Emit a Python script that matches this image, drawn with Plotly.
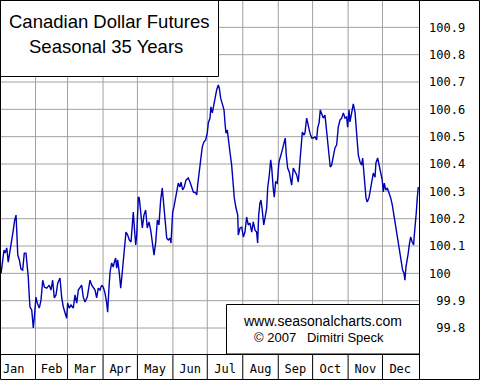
import plotly.graph_objects as go

# ---------------- data ----------------
months = ["Jan", "Feb", "Mar", "Apr", "May", "Jun", "Jul", "Aug", "Sep", "Oct", "Nov", "Dec"]
month_days = [31, 28, 31, 30, 31, 30, 31, 31, 30, 31, 30, 31]

days_jan_mar = [0.9, 2.4, 3.5, 4.4, 5.9, 7.2, 8.7, 10.2, 11.6, 12.8, 14.0, 14.6, 15.5, 16.9, 18.3, 19.8, 21.2, 22.7, 23.8, 24.7,
                25.6, 26.2, 27.7, 29.1, 30.0, 31.4, 32.6, 34.3, 35.8, 37.3, 38.7, 40.8, 43.0, 44.5, 46.0, 47.4, 48.9, 50.4, 52.4, 53.9,
                55.3, 56.8, 58.2, 59.1, 60.5, 62.0, 64.0, 65.5, 67.0, 68.4, 69.9, 71.3, 72.7, 74.2, 76.2, 78.0]
vals_jan_mar = [100.000, 100.056, 100.085, 100.074, 100.093, 100.041, 100.078, 100.111, 100.158, 100.195,
                100.213, 100.158, 100.067, 100.049, 100.016, 100.012, 100.074, 100.074, 100.030, 99.986,
                99.913, 99.877, 99.866, 99.800, 99.840, 99.913, 99.891, 99.873, 99.902, 99.975,
                99.950, 99.946, 99.957, 99.939, 99.975, 99.910, 99.921, 99.964, 99.983, 99.910,
                99.877, 99.855, 99.836, 99.891, 99.873, 99.884, 99.873, 99.921, 99.891, 99.939,
                99.950, 99.957, 99.913, 99.895, 99.913, 99.968]

days_mar_may = [78.6, 80.1, 81.5, 83.0, 84.4, 85.8, 87.3, 88.8, 90.2, 91.7, 93.2, 94.0, 95.2, 96.1, 97.5, 98.9, 99.8, 101.0, 101.9, 102.8,
                104.2, 105.4, 106.8, 108.5, 110.0, 111.5, 112.9, 114.4, 115.5, 116.4, 117.3, 118.5, 119.4, 120.8, 121.6, 122.9, 124.3, 125.7, 127.2, 128.6,
                130.1, 131.6, 133.0, 134.5, 136.0, 137.4, 138.8, 140.3, 141.7, 142.6, 144.1, 145.6, 147.0, 148.4, 149.3]
vals_mar_may = [99.975, 99.957, 99.950, 99.939, 99.910, 99.946, 99.939, 99.957, 99.950, 99.928,
                99.891, 99.858, 99.950, 100.005, 100.038, 100.023, 100.041, 100.056, 100.019, 100.049,
                100.001, 99.946, 100.005, 100.085, 100.151, 100.140, 100.122, 100.115, 100.184, 100.224,
                100.169, 100.104, 100.140, 100.279, 100.276, 100.232, 100.166, 100.213, 100.232, 100.166,
                100.188, 100.158, 100.122, 100.067, 100.115, 100.195, 100.177, 100.268, 100.312, 100.268,
                100.184, 100.129, 100.122, 100.129, 100.111]

days_jun_aug = [150.8, 151.9, 153.4, 154.3, 155.7, 157.2, 158.1, 159.5, 160.9, 162.4, 164.4, 165.9, 167.4, 168.8, 171.1, 171.8, 172.6, 173.5, 174.6, 175.5,
                176.6, 178.1, 179.6, 181.0, 181.9, 183.4, 184.2, 185.4, 186.9, 187.7, 189.2, 190.6, 191.5, 192.7, 194.1, 195.6, 196.5, 197.3, 198.5, 199.4,
                200.8, 202.3, 203.2, 204.6, 206.1, 207.6, 208.1, 209.6, 211.1, 212.5, 213.9, 215.4, 216.8, 218.3, 219.8, 221.2, 222.7, 224.1, 225.0, 225.9]
vals_jun_aug = [100.224, 100.243, 100.276, 100.298, 100.330, 100.316, 100.334, 100.305, 100.316, 100.341,
                100.349, 100.334, 100.312, 100.298, 100.294, 100.287, 100.323, 100.360, 100.385, 100.422,
                100.462, 100.481, 100.488, 100.513, 100.550, 100.568, 100.609, 100.587, 100.623, 100.645,
                100.671, 100.689, 100.678, 100.641, 100.616, 100.598, 100.550, 100.513, 100.524, 100.481,
                100.444, 100.396, 100.334, 100.276, 100.239, 100.213, 100.140, 100.166, 100.169, 100.133,
                100.151, 100.206, 100.177, 100.184, 100.151, 100.188, 100.158, 100.151, 100.111, 100.213]

days_aug_oct = [227.0, 227.9, 229.0, 230.3, 231.4, 232.9, 233.8, 234.9, 236.4, 237.3, 238.6, 239.5, 240.7, 242.1, 243.6, 245.1, 246.5, 248.0, 249.1, 250.0,
                251.2, 252.6, 253.8, 254.7, 256.1, 257.6, 259.1, 260.5, 261.4, 262.8, 264.0, 265.5, 266.3, 267.8, 269.2, 270.7, 272.2, 273.6, 275.1, 276.5,
                277.4, 278.6, 279.7, 280.9, 282.3, 283.8, 285.3, 286.1, 287.3, 288.4, 289.6, 291.0]
vals_aug_oct = [100.257, 100.268, 100.232, 100.177, 100.202, 100.239, 100.316, 100.349, 100.415, 100.385,
                100.312, 100.279, 100.334, 100.330, 100.407, 100.426, 100.451, 100.477, 100.495, 100.433,
                100.385, 100.371, 100.349, 100.323, 100.385, 100.371, 100.360, 100.334, 100.389, 100.459,
                100.517, 100.506, 100.513, 100.568, 100.535, 100.513, 100.495, 100.495, 100.499, 100.488,
                100.532, 100.550, 100.598, 100.587, 100.568, 100.579, 100.517, 100.470, 100.440, 100.389,
                100.396, 100.422]

days_oct_dec = [292.5, 294.0, 295.4, 296.9, 298.4, 299.8, 301.3, 302.7, 303.6, 304.8, 305.6, 307.1, 308.5, 310.0, 310.9, 312.0, 312.9, 314.4, 315.8, 316.7,
                317.8, 318.7, 319.6, 320.7, 322.2, 323.7, 324.6, 326.0, 327.5, 328.3, 329.8, 330.9, 332.4, 333.8, 334.7, 335.6, 336.8, 338.2, 339.7, 341.2,
                342.6, 344.0, 345.5, 346.9, 347.8, 348.7, 349.9, 350.8, 351.6, 352.8, 353.6, 354.5, 355.7, 356.5, 357.4, 358.6, 360.0, 361.2, 361.8, 362.6,
                363.5, 364.4, 365.3]
vals_oct_dec = [100.459, 100.470, 100.535, 100.561, 100.568, 100.587, 100.568, 100.572, 100.535, 100.598,
                100.554, 100.587, 100.620, 100.590, 100.550, 100.488, 100.433, 100.407, 100.396, 100.422,
                100.371, 100.312, 100.276, 100.261, 100.276, 100.312, 100.341, 100.367, 100.352, 100.404,
                100.422, 100.396, 100.371, 100.341, 100.298, 100.330, 100.305, 100.312, 100.294, 100.276,
                100.250, 100.213, 100.177, 100.147, 100.122, 100.096, 100.060, 100.038, 100.012, 100.001,
                99.975, 100.023, 100.049, 100.074, 100.104, 100.133, 100.115, 100.104, 100.140, 100.169,
                100.221, 100.276, 100.316]

y_ticks = [99.8, 99.9, 100.0, 100.1, 100.2, 100.3, 100.4, 100.5, 100.6, 100.7, 100.8, 100.9]
y_tick_text = ["\u00a099.8", "\u00a099.9", "100", "100.1", "100.2", "100.3", "100.4", "100.5", "100.6", "100.7", "100.8", "100.9"]

title_lines = ["Canadian Dollar Futures", "Seasonal 35 Years"]
credit_lines = ["www.seasonalcharts.com", "\u00a9 2007\u00a0\u00a0\u00a0Dimitri Speck"]

# ---------------- assembly ----------------
days = days_jan_mar + days_mar_may + days_jun_aug + days_aug_oct + days_oct_dec
vals = vals_jan_mar + vals_mar_may + vals_jun_aug + vals_aug_oct + vals_oct_dec
assert len(days) == len(vals)

boundaries = [0]
for d in month_days:
    boundaries.append(boundaries[-1] + d)
mids = [(boundaries[i] + boundaries[i + 1]) / 2 for i in range(12)]
mids[0] -= 3.5  # Jan label sits a bit left in the original

W, H = 480, 380
PX_R = 419      # right edge of plot area (px)
PX_B = 354      # bottom edge of plot area (px from top)
fx = lambda px: px / W
fy = lambda py: 1 - py / H

grid = "#a0a0a0"
mono = "DejaVu Sans Mono"

fig = go.Figure()
# grey grid drawn as plain line traces beneath the data line
for v in y_ticks:
    fig.add_trace(go.Scatter(x=[0, 365.9], y=[v, v], mode="lines", line=dict(color=grid, width=1),
                             hoverinfo="skip"))
for b in boundaries[1:-1]:
    fig.add_trace(go.Scatter(x=[b, b], y=[99.705, 101.0], mode="lines", line=dict(color=grid, width=1),
                             hoverinfo="skip"))
fig.add_trace(go.Scatter(x=days, y=vals, mode="lines",
                         line=dict(color="#0000b4", width=1.4), hoverinfo="skip"))

fig.update_layout(
    width=W, height=H,
    margin=dict(l=0, r=0, t=0, b=0),
    paper_bgcolor="white", plot_bgcolor="rgba(0,0,0,0)",
    showlegend=False,
    xaxis=dict(domain=[0, fx(PX_R)], range=[0, 365.9],
               tickmode="array", tickvals=mids, ticktext=months,
               showgrid=False, zeroline=False, ticks="",
               showline=True, linecolor="black", linewidth=1,
               tickfont=dict(family=mono, size=12, color="black"),
               ticklabelstandoff=4),
    yaxis=dict(domain=[fy(PX_B), 1], range=[99.705, 101.0], side="right",
               tickmode="array", tickvals=y_ticks, ticktext=y_tick_text,
               showgrid=False, zeroline=False, ticks="",
               tickfont=dict(family=mono, size=12, color="black"),
               ticklabelstandoff=9),
)

shapes = []
# label-row separators (black)
for b in boundaries[1:-1]:
    shapes.append(dict(type="line", xref="x", yref="paper", x0=b, x1=b, y0=0, y1=fy(PX_B),
                       line=dict(color="black", width=1)))
# right column separator
shapes.append(dict(type="line", xref="paper", yref="paper", x0=fx(PX_R + 0.5), x1=fx(PX_R + 0.5), y0=0, y1=1,
                   line=dict(color="black", width=1)))
# title box
shapes.append(dict(type="rect", xref="paper", yref="paper", x0=fx(0.5), x1=fx(218.5), y0=fy(76.5), y1=fy(0.5),
                   fillcolor="white", line=dict(color="black", width=1), layer="above"))
# credit box
shapes.append(dict(type="rect", xref="paper", yref="paper", x0=fx(226.5), x1=fx(PX_R + 0.5), y0=fy(PX_B), y1=fy(304.5),
                   fillcolor="white", line=dict(color="black", width=1), layer="above"))
# outer border
shapes.append(dict(type="rect", xref="paper", yref="paper", x0=fx(0.5), x1=fx(W - 0.5), y0=fy(H - 0.5), y1=fy(0.5),
                   line=dict(color="black", width=1), layer="above"))
fig.update_layout(shapes=shapes)

sans = "Liberation Sans, Arial"
annotations = [
    dict(text=title_lines[0], x=fx(109.5), y=fy(21.5), xref="paper", yref="paper", showarrow=False,
         xanchor="center", yanchor="middle", font=dict(family=sans, size=18.5, color="black")),
    dict(text=title_lines[1], x=fx(106), y=fy(46.5), xref="paper", yref="paper", showarrow=False,
         xanchor="center", yanchor="middle", font=dict(family=sans, size=18.5, color="black")),
    dict(text=credit_lines[0], x=fx(322.5), y=fy(320.5), xref="paper", yref="paper", showarrow=False,
         xanchor="center", yanchor="middle", font=dict(family=sans, size=14, color="black")),
    dict(text=credit_lines[1], x=fx(318.5), y=fy(337), xref="paper", yref="paper", showarrow=False,
         xanchor="center", yanchor="middle", font=dict(family=sans, size=13, color="black")),
]
fig.update_layout(annotations=annotations)

# remove the browser's default page margin so the 480x380 figure fills the window
fig.write_html("out.html", config={"displayModeBar": False},
               post_script="document.body.style.margin='0';document.body.style.overflow='hidden';")
